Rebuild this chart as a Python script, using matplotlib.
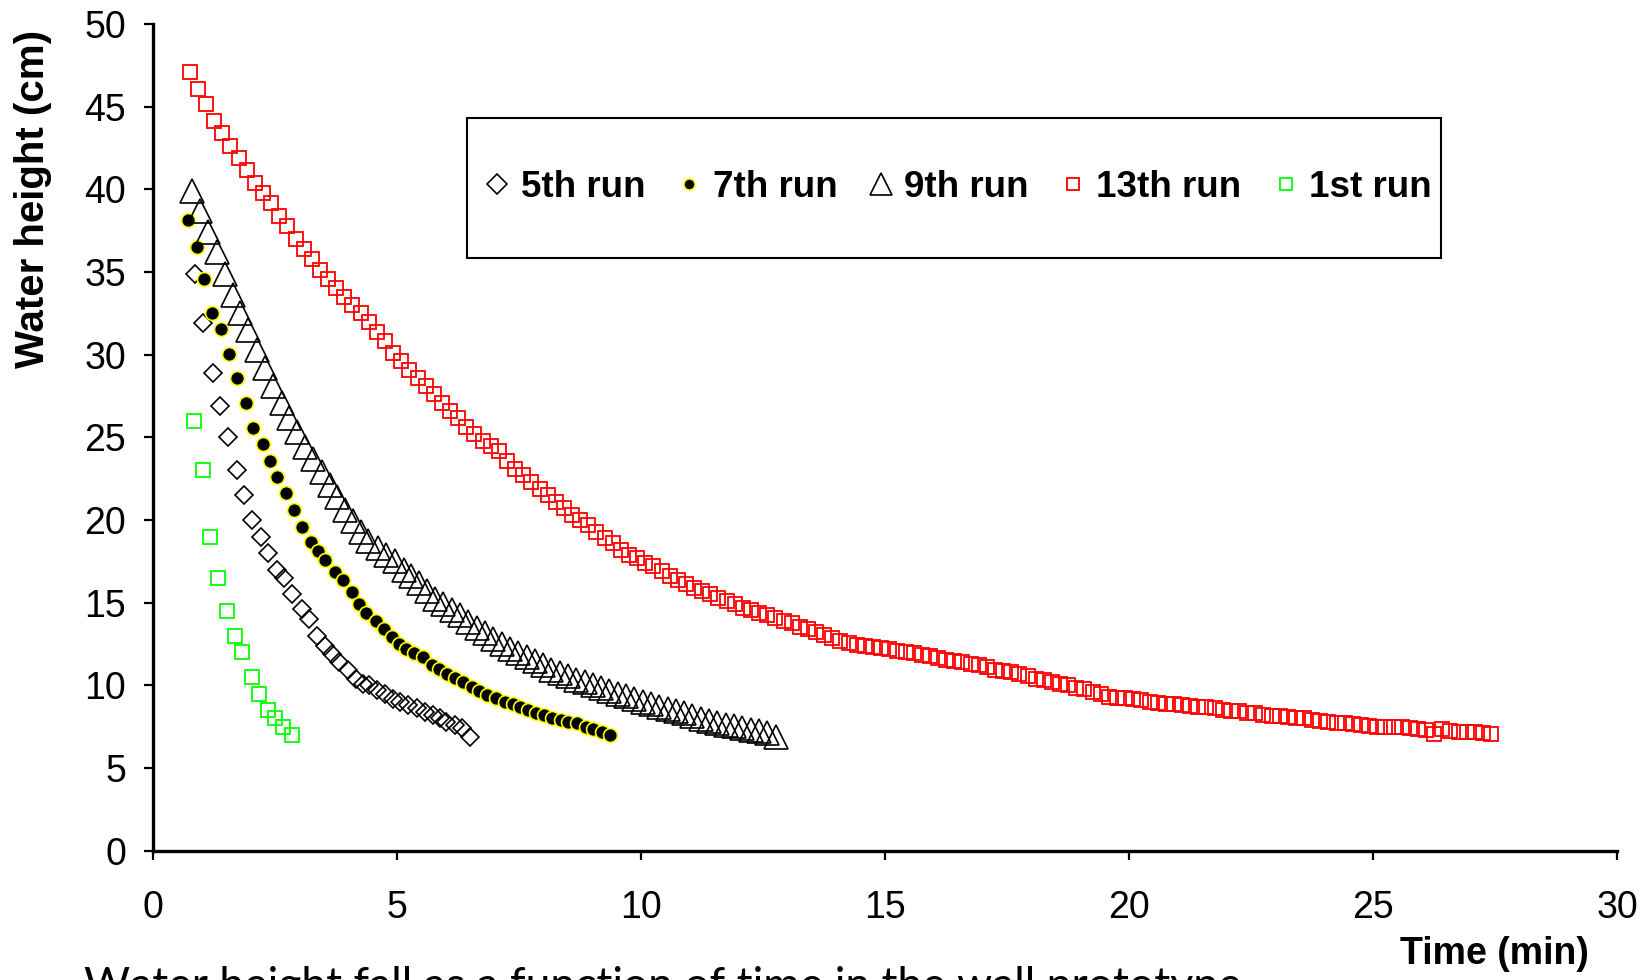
import matplotlib.pyplot as plt
from matplotlib.patches import Rectangle

# 5th run (min, cm)
t5 = [0.86, 1.03, 1.22, 1.37, 1.53, 1.71, 1.87, 2.02, 2.2, 2.36,
      2.53, 2.68, 2.84, 3.04, 3.2, 3.35, 3.52, 3.66, 3.81, 4.0,
      4.16, 4.29, 4.43, 4.58, 4.75, 4.92, 5.06, 5.23, 5.4, 5.57,
      5.73, 5.88, 6.01, 6.18, 6.32, 6.49]
h5 = [34.9, 31.9, 28.9, 26.9, 25.0, 23.0, 21.5, 20.0, 19.0, 18.0,
      17.0, 16.5, 15.5, 14.6, 14.0, 13.0, 12.4, 11.9, 11.4, 10.9,
      10.4, 10.1, 10.0, 9.7, 9.5, 9.2, 9.0, 8.8, 8.6, 8.4,
      8.2, 8.0, 7.8, 7.6, 7.4, 6.9]

# 7th run
t7 = [0.71, 0.9, 1.05, 1.2, 1.39, 1.55, 1.71, 1.9, 2.05, 2.24,
      2.39, 2.54, 2.72, 2.89, 3.04, 3.23, 3.38, 3.53, 3.73, 3.88,
      4.07, 4.22, 4.37, 4.57, 4.73, 4.89, 5.04, 5.19, 5.35, 5.53,
      5.71, 5.86, 6.03, 6.18, 6.35, 6.53, 6.68, 6.85, 7.02, 7.21,
      7.37, 7.52, 7.69, 7.84, 8.01, 8.18, 8.35, 8.51, 8.68, 8.86,
      9.02, 9.19, 9.36]
h7 = [38.15, 36.5, 34.56, 32.5, 31.54, 30.04, 28.57, 27.06, 25.58, 24.6,
      23.57, 22.58, 21.62, 20.6, 19.6, 18.7, 18.12, 17.58, 16.87, 16.37,
      15.63, 14.9, 14.39, 13.91, 13.39, 12.9, 12.5, 12.18, 11.97, 11.73,
      11.23, 10.97, 10.67, 10.46, 10.22, 9.92, 9.67, 9.41, 9.21, 9.01,
      8.85, 8.71, 8.51, 8.31, 8.2, 8.0, 7.9, 7.8, 7.7, 7.5,
      7.34, 7.19, 6.99]

# 9th run
t9 = [0.79, 0.96, 1.13, 1.3, 1.47, 1.64, 1.78, 1.95, 2.12, 2.29,
      2.46, 2.63, 2.79, 2.94, 3.11, 3.28, 3.45, 3.62, 3.77, 3.93,
      4.1, 4.26, 4.41, 4.61, 4.77, 4.96, 5.13, 5.28, 5.45, 5.62,
      5.77, 5.94, 6.12, 6.29, 6.46, 6.63, 6.8, 6.97, 7.14, 7.31,
      7.48, 7.65, 7.82, 7.99, 8.16, 8.33, 8.5, 8.67, 8.84, 9.01,
      9.18, 9.35, 9.52, 9.69, 9.86, 10.03, 10.2, 10.37, 10.54, 10.71,
      10.88, 11.05, 11.22, 11.39, 11.56, 11.73, 11.9, 12.07, 12.24, 12.41,
      12.58, 12.76]
h9 = [39.9, 38.7, 37.4, 36.2, 34.9, 33.6, 32.5, 31.5, 30.3, 29.2,
      28.1, 27.1, 26.2, 25.3, 24.4, 23.7, 22.9, 22.1, 21.4, 20.6,
      19.95, 19.3, 18.75, 18.3, 17.9, 17.5, 17.0, 16.6, 16.2, 15.7,
      15.2, 14.9, 14.55, 14.25, 13.85, 13.45, 13.15, 12.8, 12.5, 12.2,
      11.95, 11.7, 11.45, 11.2, 10.95, 10.75, 10.55, 10.35, 10.18, 10.0,
      9.85, 9.68, 9.5, 9.35, 9.2, 9.0, 8.87, 8.7, 8.58, 8.42,
      8.3, 8.14, 7.98, 7.86, 7.74, 7.62, 7.51, 7.41, 7.31, 7.21,
      7.1, 6.9]

# 13th run, readings every 10 s
t13_s = [45, 55, 65, 75, 85, 95, 105, 115, 125, 135,
         145, 155, 165, 175, 185, 195, 205, 215, 225, 235,
         245, 255, 265, 275, 285, 295, 305, 315, 325, 335,
         345, 355, 365, 375, 385, 395, 405, 415, 425, 435,
         445, 455, 465, 475, 485, 495, 505, 515, 525, 535,
         545, 555, 565, 575, 585, 595, 605, 615, 625, 635,
         645, 655, 665, 675, 685, 695, 705, 715, 725, 735,
         745, 755, 765, 775, 785, 795, 805, 815, 825, 835,
         845, 855, 865, 875, 885, 895, 905, 915, 925, 935,
         945, 955, 965, 975, 985, 995, 1005, 1015, 1025, 1035,
         1045, 1055, 1065, 1075, 1085, 1095, 1105, 1115, 1125, 1135,
         1145, 1155, 1165, 1175, 1185, 1195, 1205, 1215, 1225, 1235,
         1245, 1255, 1265, 1275, 1285, 1295, 1305, 1315, 1325, 1335,
         1345, 1355, 1365, 1375, 1385, 1395, 1405, 1415, 1425, 1435,
         1445, 1455, 1465, 1475, 1485, 1495, 1505, 1515, 1525, 1535,
         1545, 1555, 1565, 1575, 1585, 1595, 1605, 1615, 1625, 1635,
         1645]
h13 = [47.1, 46.1, 45.15, 44.15, 43.4, 42.6, 41.9, 41.2, 40.4, 39.8,
       39.2, 38.4, 37.8, 37.0, 36.4, 35.8, 35.1, 34.6, 34.05, 33.5,
       33.0, 32.5, 32.0, 31.4, 30.8, 30.1, 29.6, 29.1, 28.6, 28.1,
       27.6, 27.1, 26.6, 26.2, 25.6, 25.2, 24.8, 24.5, 24.2, 23.6,
       23.1, 22.7, 22.3, 21.9, 21.5, 21.1, 20.7, 20.3, 20.0, 19.7,
       19.3, 18.9, 18.6, 18.2, 17.9, 17.7, 17.4, 17.2, 16.9, 16.6,
       16.4, 16.1, 15.9, 15.7, 15.5, 15.3, 15.1, 14.9, 14.7, 14.55,
       14.4, 14.25, 14.05, 13.9, 13.75, 13.55, 13.4, 13.25, 13.05, 12.85,
       12.7, 12.55, 12.45, 12.35, 12.3, 12.25, 12.2, 12.1, 12.0, 11.95,
       11.85, 11.75, 11.65, 11.55, 11.45, 11.4, 11.3, 11.2, 11.1, 10.95,
       10.85, 10.8, 10.7, 10.55, 10.4, 10.35, 10.2, 10.1, 10.0, 9.85,
       9.75, 9.6, 9.45, 9.3, 9.25, 9.25, 9.15, 9.1, 9.0, 8.95,
       8.9, 8.85, 8.8, 8.75, 8.7, 8.7, 8.6, 8.5, 8.45, 8.45,
       8.35, 8.3, 8.2, 8.15, 8.15, 8.1, 8.05, 8.0, 7.9, 7.85,
       7.8, 7.75, 7.7, 7.65, 7.6, 7.55, 7.5, 7.5, 7.5, 7.45,
       7.4, 7.35, 7.3, 7.05, 7.35, 7.25, 7.2, 7.15, 7.15, 7.1,
       7.05]
t13 = [s / 60 for s in t13_s]

# 1st run
t1 = [0.83, 1.03, 1.17, 1.33, 1.52, 1.67, 1.82, 2.02, 2.17, 2.35, 2.5, 2.67, 2.85]
h1 = [26.0, 23.0, 19.0, 16.5, 14.5, 13.0, 12.0, 10.5, 9.5, 8.5, 8.0, 7.5, 7.0]

FONT = 'Liberation Sans'

fig = plt.figure(figsize=(16.42, 9.8), dpi=100)
ax = fig.add_axes([0.0933, 0.132, 0.8916, 0.8434])

ax.plot(t5, h5, ls='none', marker='D', ms=9, mfc='none', mec='black', mew=1.2, label='5th run')
ax.plot(t7, h7, ls='none', marker='o', ms=10, mfc='black', mec='#ffff00', mew=1.2, label='7th run')
ax.plot(t9, h9, ls='none', marker='^', ms=17, mfc='none', mec='black', mew=1.2, label='9th run')
ax.plot(t13, h13, ls='none', marker='s', ms=9.5, mfc='none', mec='#ff0000', mew=1.3, label='13th run')
ax.plot(t1, h1, ls='none', marker='s', ms=9.5, mfc='none', mec='#00ff00', mew=1.3, label='1st run')

ax.set_xlim(0, 30)
ax.set_ylim(0, 50)
ax.set_xticks(range(0, 31, 5))
ax.set_yticks(range(0, 51, 5))
for s in ['top', 'right']:
    ax.spines[s].set_visible(False)
for s in ['left', 'bottom']:
    ax.spines[s].set_linewidth(2.4)
ax.tick_params(direction='out', length=6.5, width=1.6, color='black')
ax.tick_params(axis='x', pad=22)
ax.tick_params(axis='y', pad=13)
for lab in ax.get_xticklabels():
    lab.set_family(FONT)
    lab.set_fontsize(27)
for lab in ax.get_yticklabels():
    lab.set_family(FONT)
    lab.set_fontsize(27)

# legend frame drawn by hand, the entries are centred inside it
fig.patches.append(Rectangle((467 / 1642, 1 - 258 / 980), 974 / 1642, 140 / 980,
                             transform=fig.transFigure, fill=False,
                             edgecolor='black', linewidth=1.5, zorder=5))
leg = ax.legend(loc='center', bbox_to_anchor=(0.584, 0.8087), bbox_transform=fig.transFigure,
                ncol=5, frameon=False, handlelength=0.6, handletextpad=0.33,
                columnspacing=0.9, borderpad=0.0,
                prop={'family': FONT, 'weight': 'bold', 'size': 26.5})
for h, ms in zip(leg.legend_handles, [10, 8, 16, 8.5, 8.5]):
    h.set_markersize(ms)

fig.text(0.0198, 0.797, 'Water height (cm)', rotation=90, ha='center', va='center',
         fontsize=29, fontweight='bold', family=FONT)
fig.text(0.9677, 0.0265, 'Time (min)', ha='right', va='center',
         fontsize=27, fontweight='bold', family=FONT)
fig.text(0.0512, 0.0143, 'Water height fall as a function of time in the wall prototype',
         ha='left', va='top', fontsize=32, family='Lato')

fig.savefig('out.png', dpi=100)
